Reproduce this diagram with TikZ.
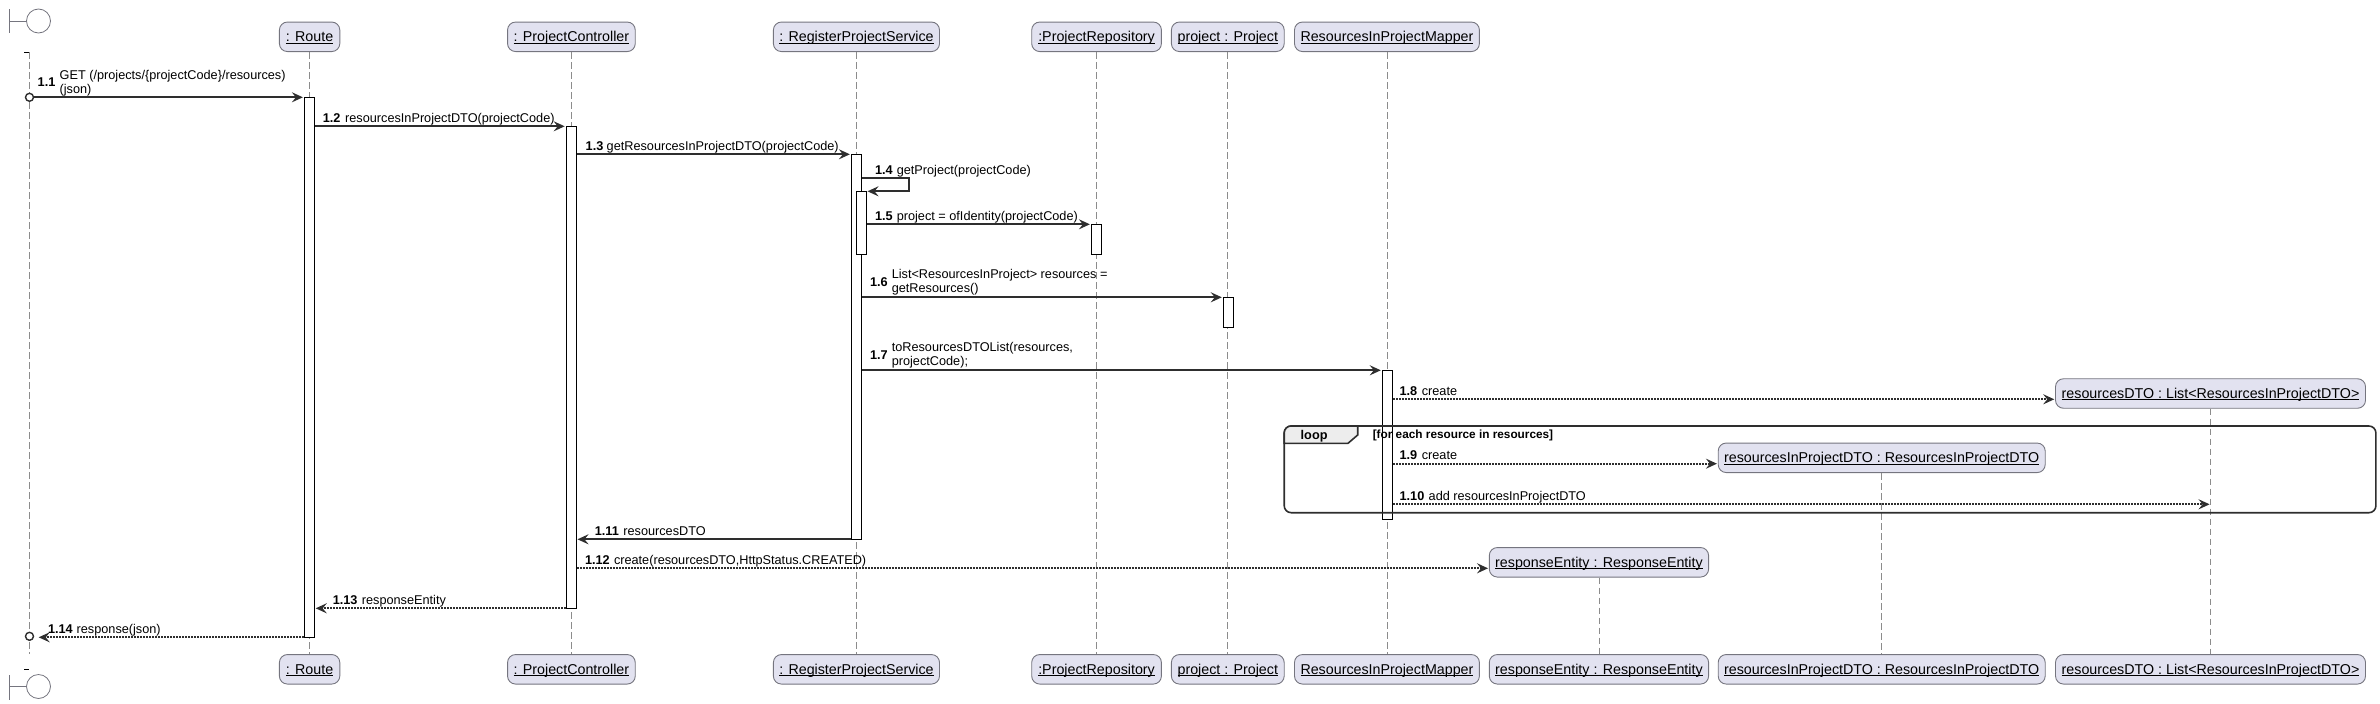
\documentclass[tikz,border=0pt]{standalone}
\usepackage{fontspec}
\setmainfont{Liberation Sans}
\usetikzlibrary{arrows.meta}
\newsavebox{\ulbox}
\newcommand{\ulin}[1]{\sbox{\ulbox}{#1}\rlap{\rule[-1.6pt]{\wd\ulbox}{0.9pt}}\usebox{\ulbox}}
\definecolor{headfill}{HTML}{E2E2F0}
\definecolor{headline}{HTML}{75757F}
\definecolor{lifecol}{HTML}{8C8C8C}
\definecolor{ink}{HTML}{2E2E2E}
\tikzset{
  headbox/.style={draw=headline,fill=headfill,line width=0.9pt,rounded corners=8pt,inner sep=0pt,minimum height=29.5pt,
    text height=13pt,text depth=3pt,font=\fontsize{14.27}{16}\selectfont},
  lifel/.style={draw=lifecol,line width=0.8pt,dash pattern=on 6.5pt off 3.5pt},
  actb/.style={draw=black,fill=white,line width=1pt,inner sep=0pt,minimum width=10pt},
  syncmsg/.style={draw=ink,line width=1.9pt,-{Stealth[length=11pt,width=10pt,inset=4pt,color=ink]}},
  dotmsg/.style={draw=ink,line width=1.8pt,dash pattern=on 1.7pt off 1.3pt,-{Stealth[length=11pt,width=10pt,inset=4pt,color=ink]}},
  num/.style={anchor=base west,inner sep=0pt,font=\fontsize{12.7}{14}\selectfont\bfseries},
  txt/.style={anchor=base west,inner sep=0pt,font=\fontsize{12.7}{14}\selectfont},
  endcirc/.style={draw=ink,fill=white,circle,line width=1.4pt,inner sep=0pt,minimum size=8pt},
  bound/.style={draw=headline,line width=0.8pt},
}
\begin{document}
\begin{tikzpicture}[x=1pt,y=-1pt]
\useasboundingbox (0,0) rectangle (2380,704);
% participants, top
\node[headbox,minimum width=60.4pt] (hRoute) at (309.6,36.8) {\ulin{: Route}};
\node[headbox,minimum width=127.7pt] (hCtrl) at (571.4,36.8) {\ulin{: ProjectController}};
\node[headbox,minimum width=166.1pt] (hServ) at (856.45,36.8) {\ulin{: RegisterProjectService}};
\node[headbox,minimum width=129.7pt] (hRepo) at (1096.55,36.8) {\ulin{:ProjectRepository}};
\node[headbox,minimum width=112.8pt] (hProj) at (1227.8,36.8) {\ulin{project : Project}};
\node[headbox,minimum width=184.9pt] (hMap) at (1386.95,36.8) {\ulin{ResourcesInProjectMapper}};
\node[headbox,minimum width=219.3pt] (hResp) at (1598.95,562.3) {\ulin{responseEntity : ResponseEntity}};
\node[headbox,minimum width=327pt] (hItem) at (1881.7,457.8) {\ulin{resourcesInProjectDTO : ResourcesInProjectDTO}};
\node[headbox,minimum width=310pt] (hList) at (2210.5,393.5) {\ulin{resourcesDTO : List<ResourcesInProjectDTO>}};
% participants, bottom
\node[headbox,minimum width=60.4pt] (fRoute) at (309.6,669.3) {\ulin{: Route}};
\node[headbox,minimum width=127.7pt] (fCtrl) at (571.4,669.3) {\ulin{: ProjectController}};
\node[headbox,minimum width=166.1pt] (fServ) at (856.45,669.3) {\ulin{: RegisterProjectService}};
\node[headbox,minimum width=129.7pt] (fRepo) at (1096.55,669.3) {\ulin{:ProjectRepository}};
\node[headbox,minimum width=112.8pt] (fProj) at (1227.8,669.3) {\ulin{project : Project}};
\node[headbox,minimum width=184.9pt] (fMap) at (1386.95,669.3) {\ulin{ResourcesInProjectMapper}};
\node[headbox,minimum width=219.3pt] (fResp) at (1598.95,669.3) {\ulin{responseEntity : ResponseEntity}};
\node[headbox,minimum width=327pt] (fItem) at (1881.7,669.3) {\ulin{resourcesInProjectDTO : ResourcesInProjectDTO}};
\node[headbox,minimum width=310pt] (fList) at (2210.5,669.3) {\ulin{resourcesDTO : List<ResourcesInProjectDTO>}};
% boundary actor
\node[bound,circle,inner sep=0pt,minimum size=24pt] (bTop) at (38.5,21) {};
\coordinate (bTopL) at (9.2,21);
\coordinate (bTopA) at (9.2,9);
\coordinate (bTopB) at (9.2,33.3);
\draw[bound] (bTopA) -- (bTopB);
\draw[bound] (bTopL) -- (bTop.west);
\node[bound,circle,inner sep=0pt,minimum size=24pt] (bBot) at (38.5,686.5) {};
\coordinate (bBotL) at (9.2,686.5);
\coordinate (bBotA) at (9.2,675);
\coordinate (bBotB) at (9.2,700);
\draw[bound] (bBotA) -- (bBotB);
\draw[bound] (bBotL) -- (bBot.west);
\coordinate (b0T) at (29.5,52.3);
\coordinate (b0B) at (29.5,654);
\coordinate (t0a) at (24,52.3);
\coordinate (t0b) at (24,669);
\coordinate (t0c) at (29,669);
\draw[draw=black,line width=0.9pt] (t0a) -- (b0T);
\draw[draw=black,line width=0.9pt] (t0b) -- (t0c);
% lifelines
\draw[lifel] (b0T) -- (b0B);
\foreach \p in {Route,Ctrl,Serv,Repo,Proj,Map,Resp,Item,List}{\draw[lifel] (h\p.south) -- (f\p.north);}
% activations
\node[actb,minimum height=540pt] (aRoute) at (309.6,367.3) {};
\node[actb,minimum height=482pt] (aCtrl) at (571.4,367.3) {};
\node[actb,minimum height=385pt] (aServ) at (856.6,346.8) {};
\node[actb,minimum height=63pt] (aServB) at (861.4,222.8) {};
\node[actb,minimum height=30pt] (aRepo) at (1096.6,239.3) {};
\node[actb,minimum height=30pt] (aProj) at (1228.5,312.3) {};
\node[actb,minimum height=149pt] (aMap) at (1387.5,444.8) {};
% loop frame
\node[draw=ink,line width=1.6pt,rounded corners=7pt,inner sep=0pt,minimum width=1091.7pt,minimum height=86.7pt] (loopf) at (1830.05,469.35) {};
% loop tab
\coordinate (tabA) at (1284.2,443.3);
\coordinate (tabB) at (1348,443.3);
\coordinate (tabC) at (1357.7,435);
\coordinate (tabD) at (1357.7,426);
\coordinate (tabE) at (1291,426);
\coordinate (tabF) at (1284.2,433);
\filldraw[draw=ink,fill=black!7,line width=1.6pt] (tabE) -- (tabD) -- (tabC) -- (tabB) -- (tabA) -- (tabF) to[out=90,in=180] (tabE);
\node[num] (loopLbl) at (1300.5,439) {loop};
\node[anchor=base west,inner sep=0pt,font=\fontsize{11.8}{14}\selectfont\bfseries] (loopGuard) at (1372.6,438.5) {[for each resource in resources]};
% message levels
\coordinate (y1) at (0,97.3);
\coordinate (y2) at (0,126.3);
\coordinate (y3) at (0,154.3);
\coordinate (y4a) at (0,178.3);
\coordinate (y4b) at (0,191.3);
\coordinate (y5) at (0,224.3);
\coordinate (y6) at (0,297.3);
\coordinate (y7) at (0,370.3);
\coordinate (y8) at (0,399.3);
\coordinate (y9) at (0,463.7);
\coordinate (y10) at (0,504.3);
\coordinate (y11) at (0,539.3);
\coordinate (y12) at (0,568.3);
\coordinate (y13) at (0,608.3);
\coordinate (y14) at (0,637.3);
% messages
\node[endcirc] (oStart) at (29.5,97.3) {};
\node[endcirc] (oEnd) at (29.5,636.3) {};
\draw[syncmsg] (oStart.east) -- ([xshift=-1.2pt]aRoute.west |- y1);
\draw[syncmsg] (aRoute.east |- y2) -- ([xshift=-1.2pt]aCtrl.west |- y2);
\draw[syncmsg] (aCtrl.east |- y3) -- ([xshift=-1.2pt]aServ.west |- y3);
\coordinate (selfA) at (908.8,178.3);
\coordinate (selfB) at (908.8,191.3);
\draw[syncmsg] (aServ.east |- y4a) -- (selfA) -- (selfB) -- ([xshift=0.6pt]aServB.east |- y4b);
\draw[syncmsg] (aServB.east |- y5) -- ([xshift=-1.2pt]aRepo.west |- y5);
\draw[syncmsg] (aServ.east |- y6) -- ([xshift=-1.2pt]aProj.west |- y6);
\draw[syncmsg] (aServ.east |- y7) -- ([xshift=-1.2pt]aMap.west |- y7);
\draw[dotmsg] (aMap.east |- y8) -- ([xshift=-0.8pt]hList.west |- y8);
\draw[dotmsg] (aMap.east |- y9) -- ([xshift=-0.8pt]hItem.west |- y9);
\coordinate (listLife) at (2209.6,504.3);
\draw[dotmsg] (aMap.east |- y10) -- (listLife);
\draw[syncmsg] (aServ.west |- y11) -- ([xshift=0.6pt]aCtrl.east |- y11);
\draw[dotmsg] (aCtrl.east |- y12) -- ([xshift=-0.8pt]hResp.west |- y12);
\draw[dotmsg] (aCtrl.west |- y13) -- ([xshift=0.6pt]aRoute.east |- y13);
\draw[dotmsg] (aRoute.west |- y14) -- ([xshift=4.5pt]oEnd.east |- y14);
% labels
\node[num] (n1) at (37.5,86) {1.1};
\node[txt] (t1a) at (59.5,79) {GET (/projects/\{projectCode\}/resources)};
\node[txt] (t1b) at (59.5,93) {(json)};
\node[num] (n2) at (322.6,122.1) {1.2};
\node[txt] (t2) at (345,122.1) {resourcesInProjectDTO(projectCode)};
\node[num] (n3) at (585.5,150.1) {1.3};
\node[txt] (t3) at (606.5,150.1) {getResourcesInProjectDTO(projectCode)};
\node[num] (n4) at (874.8,174.1) {1.4};
\node[txt] (t4) at (896.6,174.1) {getProject(projectCode)};
\node[num] (n5) at (874.8,220.1) {1.5};
\node[txt] (t5) at (896.6,220.1) {project = ofIdentity(projectCode)};
\node[num] (n6) at (869.8,286) {1.6};
\node[txt] (t6a) at (891.6,278.7) {List<ResourcesInProject> resources =};
\node[txt] (t6b) at (891.6,292.7) {getResources()};
\node[num] (n7) at (869.8,359) {1.7};
\node[txt] (t7a) at (891.6,351.7) {toResourcesDTOList(resources,};
\node[txt] (t7b) at (891.6,365.7) {projectCode);};
\node[num] (n8) at (1399.4,395.1) {1.8};
\node[txt] (t8) at (1421.6,395.1) {create};
\node[num] (n9) at (1399.4,459.5) {1.9};
\node[txt] (t9) at (1421.6,459.5) {create};
\node[num] (n10) at (1399.4,500.1) {1.10};
\node[txt] (t10) at (1428.5,500.1) {add resourcesInProjectDTO};
\node[num] (n11) at (594.6,535.1) {1.11};
\node[txt] (t11) at (623.2,535.1) {resourcesDTO};
\node[num] (n12) at (584.8,564.1) {1.12};
\node[txt] (t12) at (613.8,564.1) {create(resourcesDTO,HttpStatus.CREATED)};
\node[num] (n13) at (332.6,604.1) {1.13};
\node[txt] (t13) at (361.7,604.1) {responseEntity};
\node[num] (n14) at (47.8,633.1) {1.14};
\node[txt] (t14) at (76.5,633.1) {response(json)};
\end{tikzpicture}
\end{document}
